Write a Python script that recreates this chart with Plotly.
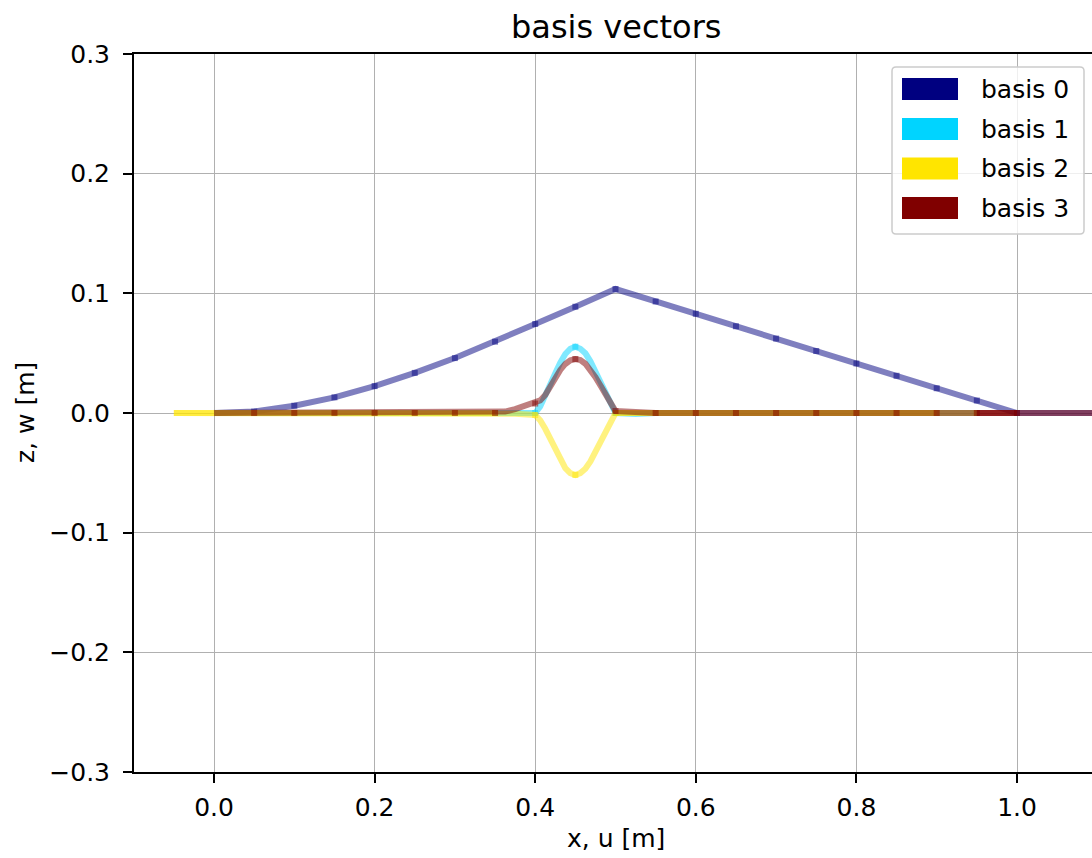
import plotly.graph_objects as go

# ---------------- data ----------------
basis_names = ["basis 0", "basis 1", "basis 2", "basis 3"]
basis_colors = ["#000080", "#00D4FF", "#FFE500", "#800000"]

# basis 0 (navy)
b0_x = [0.0, 0.05, 0.1, 0.15, 0.2, 0.25, 0.3, 0.35, 0.4, 0.45, 0.5,
        0.55, 0.6, 0.65, 0.7, 0.75, 0.8, 0.85, 0.9, 0.95, 1.0, 1.05, 1.1]
b0_y = [0.0, 0.0012, 0.0061, 0.0131, 0.0225, 0.0335, 0.0459, 0.0596, 0.0744, 0.0888, 0.1036,
        0.0932, 0.0829, 0.0725, 0.0622, 0.0518, 0.0414, 0.0311, 0.0207, 0.0104, 0.0, 0.0, 0.0]

# basis 1 (cyan)
b1_x = [0.0, 0.05, 0.1, 0.15, 0.2, 0.25, 0.3, 0.35, 0.375, 0.4,
        0.40625, 0.4125, 0.41875, 0.425, 0.43125, 0.4375, 0.44375, 0.45,
        0.45625, 0.4625, 0.46875, 0.475, 0.48125, 0.4875, 0.49375, 0.5,
        0.525, 0.55, 0.6, 0.65, 0.7, 0.75, 0.8, 0.85, 0.9, 0.95]
b1_y = [0.0, 0.0, 0.0, 0.0, 0.0, 0.0, 0.0, 0.0, -0.0003, 0.0,
        0.0055, 0.0139, 0.0233, 0.0332, 0.0421, 0.0493, 0.0537, 0.0554,
        0.0537, 0.0499, 0.0432, 0.0349, 0.0260, 0.0172, 0.0083, 0.0,
        -0.0008, 0.0, 0.0, 0.0, 0.0, 0.0, 0.0, 0.0, 0.0, 0.0]

# basis 2 (yellow)
b2_x = [-0.05, 0.0, 0.05, 0.1, 0.15, 0.2, 0.25, 0.3, 0.35, 0.375, 0.4,
        0.40625, 0.4125, 0.41875, 0.425, 0.43125, 0.4375, 0.44375, 0.45,
        0.45625, 0.4625, 0.46875, 0.475, 0.48125, 0.4875, 0.49375, 0.5,
        0.55, 0.6, 0.65, 0.7, 0.75, 0.8, 0.85, 0.9, 0.95]
b2_y = [0.0, 0.0, 0.0, 0.0, 0.0, 0.0, 0.0, 0.0, 0.0, -0.0006, -0.0017,
        -0.0062, -0.0132, -0.0218, -0.0311, -0.0394, -0.0461, -0.0502, -0.0518,
        -0.0502, -0.0466, -0.0404, -0.0326, -0.0243, -0.0161, -0.0078, 0.0,
        0.0, 0.0, 0.0, 0.0, 0.0, 0.0, 0.0, 0.0, 0.0]
# overlapping (doubled) element segments of basis 2 on the zero line
b2_overlap_a_x = [-0.05, 0.0, 0.35]
b2_overlap_a_y = [0.0, 0.0, 0.0]
b2_overlap_b_x = [0.5, 0.9]
b2_overlap_b_y = [0.0, 0.0]

# basis 3 (maroon)
b3_x = [0.0, 0.05, 0.1, 0.15, 0.2, 0.25, 0.3, 0.35, 0.3625, 0.375, 0.3875, 0.4,
        0.40625, 0.4125, 0.41875, 0.425, 0.43125, 0.4375, 0.44375, 0.45,
        0.45625, 0.4625, 0.46875, 0.475, 0.48125, 0.4875, 0.49375, 0.5,
        0.525, 0.55, 0.6, 0.65, 0.7, 0.75, 0.8, 0.85, 0.9, 0.95, 1.0, 1.05, 1.1]
b3_y = [0.0, 0.0, 0.0, 0.0, 0.0, 0.0, 0.0, 0.0, 0.0012, 0.0032, 0.0058, 0.0079,
        0.0105, 0.0150, 0.0220, 0.0300, 0.0360, 0.0410, 0.0440, 0.0451,
        0.0442, 0.0412, 0.0362, 0.0300, 0.0230, 0.0160, 0.0088, 0.0017,
        0.0008, 0.0, 0.0, 0.0, 0.0, 0.0, 0.0, 0.0, 0.0, 0.0, 0.0, 0.0, 0.0]
# overlapping element segment of basis 3 (drawn several times in the reference)
b3_overlap_x = [0.95, 1.0]
b3_overlap_y = [0.0, 0.0]

x_tickvals = [0.0, 0.2, 0.4, 0.6, 0.8, 1.0]
x_ticktext = ["0.0", "0.2", "0.4", "0.6", "0.8", "1.0"]
y_tickvals = [-0.3, -0.2, -0.1, 0.0, 0.1, 0.2, 0.3]
y_ticktext = ["\u22120.3", "\u22120.2", "\u22120.1", "0.0", "0.1", "0.2", "0.3"]

title_text = "basis vectors"
x_title = "x, u [m]"
y_title = "z, w [m]"

# ---------------- figure ----------------
W, H = 1092, 858
L, R, T, B = 134, 0, 54, 86
PW, PH = W - L - R, H - T - B
FONT = "DejaVu Sans"
LW = 6


def rgba(hexc, a):
    hexc = hexc.lstrip("#")
    r, g, b = int(hexc[0:2], 16), int(hexc[2:4], 16), int(hexc[4:6], 16)
    return f"rgba({r},{g},{b},{a})"


def px(xp):
    return (xp - L) / PW


def py(yp):
    return (H - B - yp) / PH


def nodes(xs, ys, lo=0.04, hi=1.01):
    nx, ny = [], []
    for xv, yv in zip(xs, ys):
        k = xv / 0.05
        if abs(k - round(k)) < 1e-9 and lo < xv < hi:
            nx.append(xv)
            ny.append(yv)
    return nx, ny


def line_trace(xs, ys, color):
    return go.Scatter(x=xs, y=ys, mode="lines",
                      line=dict(color=rgba(color, 0.5), width=LW),
                      showlegend=False, hoverinfo="skip")


fig = go.Figure()
series = [(b0_x, b0_y), (b1_x, b1_y), (b2_x, b2_y), (b3_x, b3_y)]
for i, (xs, ys) in enumerate(series):
    c = basis_colors[i]
    fig.add_trace(line_trace(xs, ys, c))
    if i == 2:
        fig.add_trace(line_trace(b2_overlap_a_x, b2_overlap_a_y, c))
        fig.add_trace(line_trace(b2_overlap_b_x, b2_overlap_b_y, c))
    if i == 3:
        for _ in range(2):
            fig.add_trace(line_trace(b3_overlap_x, b3_overlap_y, c))
    nx, ny = nodes(xs, ys)
    fig.add_trace(go.Scatter(x=nx, y=ny, mode="markers", showlegend=False,
                             marker=dict(symbol="square", size=6, color=rgba(c, 0.5),
                                         line=dict(width=0)),
                             hoverinfo="skip"))

x0_px, x1_px = 214.0, 1017.0
xscale = (x1_px - x0_px) / 1.0
x_range = [(L - x0_px) / xscale, (W - R - x0_px) / xscale]

axis_common = dict(
    showgrid=True, gridcolor="#b0b0b0", gridwidth=1,
    showline=True, linecolor="black", linewidth=2,
    ticks="outside", ticklen=9, tickwidth=1.6, tickcolor="black",
    tickfont=dict(family=FONT, size=25, color="black"),
    zeroline=False,
)

fig.update_layout(
    width=W, height=H,
    margin=dict(l=L, r=R, t=T, b=B, pad=0),
    paper_bgcolor="white", plot_bgcolor="white",
    showlegend=False,
    xaxis=dict(range=x_range, tickvals=x_tickvals, ticktext=x_ticktext,
               mirror=True, ticklabelstandoff=3, **axis_common),
    yaxis=dict(range=[-0.3, 0.3], tickvals=y_tickvals, ticktext=y_ticktext,
               ticklabelstandoff=8, **axis_common),
)

annotations = [
    dict(text=title_text, x=px(616), y=py(27), xref="paper", yref="paper",
         showarrow=False, font=dict(family=FONT, size=32, color="black"),
         xanchor="center", yanchor="middle"),
    dict(text=x_title, x=px(616), y=py(838), xref="paper", yref="paper",
         showarrow=False, font=dict(family=FONT, size=25, color="black"),
         xanchor="center", yanchor="middle"),
    dict(text=y_title, x=px(25), y=py(413), xref="paper", yref="paper",
         showarrow=False, textangle=-90, font=dict(family=FONT, size=25, color="black"),
         xanchor="center", yanchor="middle"),
]

# legend (matplotlib-like patches)
shapes = []
bx0, by0, bx1, by1, rad = 892, 67, 1084, 234, 4
path = (f"M {px(bx0 + rad)},{py(by0)} L {px(bx1 - rad)},{py(by0)} "
        f"Q {px(bx1)},{py(by0)} {px(bx1)},{py(by0 + rad)} "
        f"L {px(bx1)},{py(by1 - rad)} Q {px(bx1)},{py(by1)} {px(bx1 - rad)},{py(by1)} "
        f"L {px(bx0 + rad)},{py(by1)} Q {px(bx0)},{py(by1)} {px(bx0)},{py(by1 - rad)} "
        f"L {px(bx0)},{py(by0 + rad)} Q {px(bx0)},{py(by0)} {px(bx0 + rad)},{py(by0)} Z")
shapes.append(dict(type="path", path=path, xref="paper", yref="paper",
                   fillcolor="rgba(255,255,255,0.8)", line=dict(color="#cccccc", width=1.5)))
row_top = [78, 118, 157.5, 197]
for i, yt in enumerate(row_top):
    shapes.append(dict(type="rect", xref="paper", yref="paper",
                       x0=px(902), x1=px(958), y0=py(yt), y1=py(yt + 22),
                       fillcolor=basis_colors[i], line=dict(width=0)))
    annotations.append(dict(text=basis_names[i], x=px(979), y=py(yt + 11),
                            xref="paper", yref="paper", showarrow=False,
                            xanchor="left", yanchor="middle",
                            font=dict(family=FONT, size=25, color="black")))

fig.update_layout(shapes=shapes, annotations=annotations)
fig.write_html("out.html")
